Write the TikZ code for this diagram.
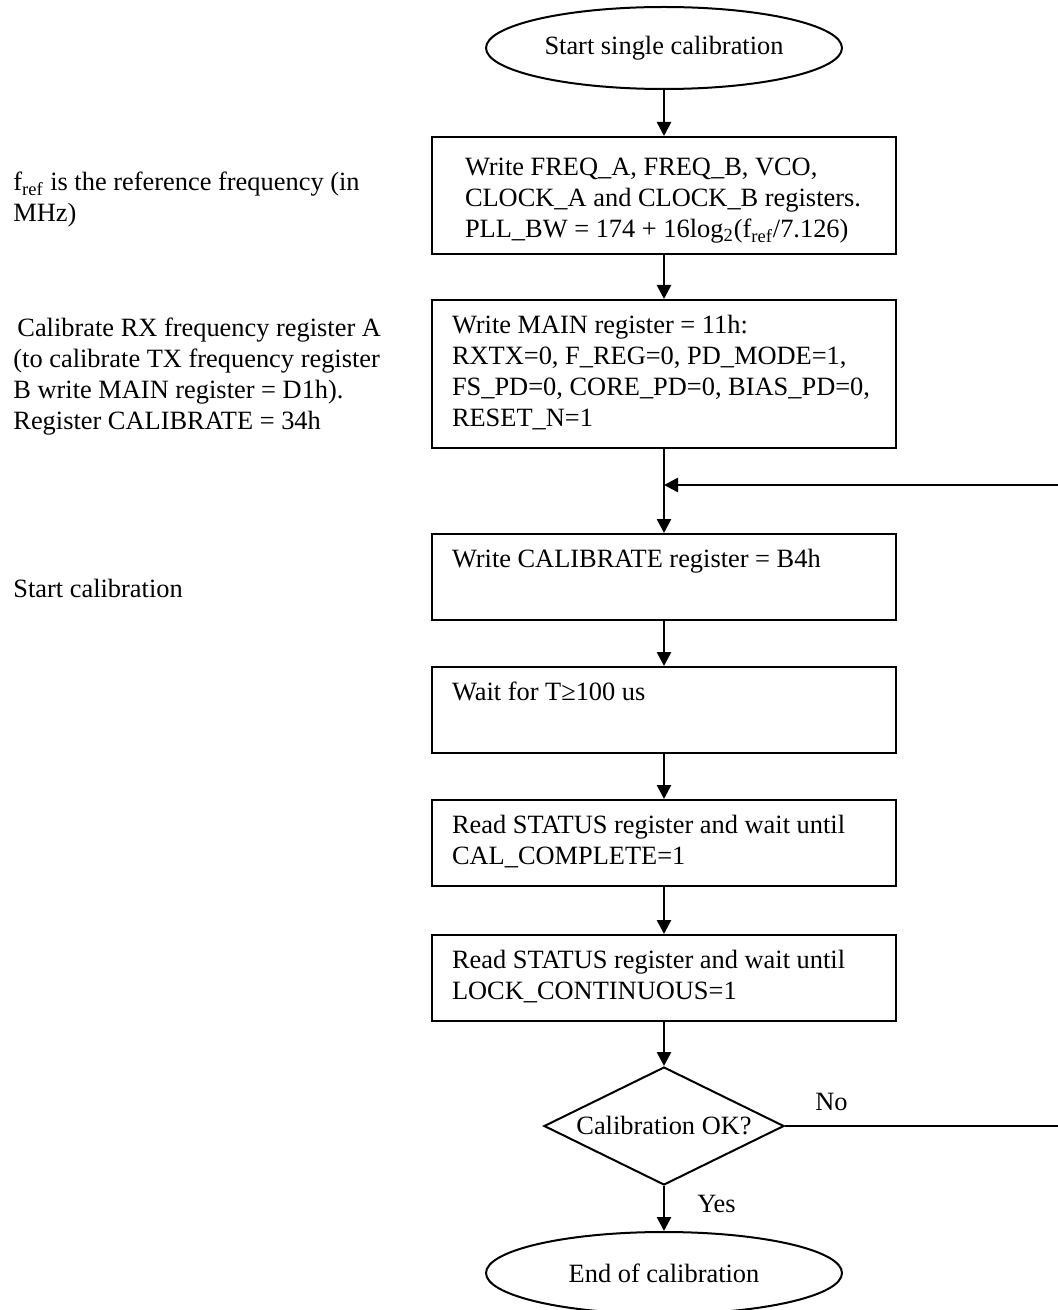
\documentclass[tikz,border=0pt]{standalone}
\usepackage{fontspec}
\setmainfont{Liberation Serif}
\usetikzlibrary{shapes.geometric, arrows.meta}

\begin{document}
\begin{tikzpicture}[x=0.5pt, y=-0.5pt, font=\fontsize{13.2}{15.5}\selectfont,
    flowbox/.style={draw, line width=1pt, align=flush left, text width=212pt, inner xsep=10pt,
        inner ysep=6pt, anchor=north, execute at begin node=\strut, execute at end node=\strut},
    termnode/.style={draw, ellipse, line width=1pt, minimum width=178pt, minimum height=41pt, inner sep=0pt},
    decnode/.style={draw, diamond, aspect=2, line width=1pt, minimum width=120pt, minimum height=59pt, inner sep=0pt},
    note/.style={align=flush left, anchor=north west, inner sep=0pt, execute at begin node=\strut},
    flow/.style={line width=1.3pt, -{Triangle[length=7pt,width=7pt]}}]
        \useasboundingbox (0,0) rectangle (1058,1310);
        \node[termnode] (start) at (664,48) {Start single calibration};
        \node[flowbox, inner xsep=16.5pt, text width=199pt, inner ysep=3.5pt,
            execute at begin node={\rule{0pt}{16pt}}] (wfreq) at (664,136)
            {Write FREQ\_A, FREQ\_B, VCO,\\CLOCK\_A and CLOCK\_B registers.\\PLL\_BW = 174 + 16log\textsubscript{2}(f\textsubscript{ref}/7.126)};
        \node[flowbox] (wmain) at (664,299)
            {Write MAIN register = 11h:\\RXTX=0, F\_REG=0, PD\_MODE=1,\\FS\_PD=0, CORE\_PD=0, BIAS\_PD=0,\\RESET\_N=1};
        \node[flowbox] (wcal) at (664,533) {Write CALIBRATE register = B4h\\ \mbox{}};
        \node[flowbox] (wait) at (664,666) {Wait for T≥100 us\\ \mbox{}};
        \node[flowbox] (rcal) at (664,799) {Read STATUS register and wait until\\CAL\_COMPLETE=1};
        \node[flowbox] (rlock) at (664,934) {Read STATUS register and wait until\\LOCK\_CONTINUOUS=1};
        \node[decnode] (chk) at (664,1126) {Calibration OK?};
        \node[termnode] (stop) at (664,1273) {End of calibration};
        \node[note] (noteref) at (13,172) {f\textsubscript{ref} is the reference frequency (in\\MHz)};
        \node[note] (notemain) at (13,318)
            {\hspace{2pt}Calibrate RX frequency register A\\(to calibrate TX frequency register\\B write MAIN register = D1h).\\Register CALIBRATE = 34h};
        \node[note] (notestart) at (13,575) {Start calibration};
        \coordinate (join) at (664,485);
        \coordinate (loopin) at (1058,485);
        \coordinate (noout) at (1058,1126);
        \draw[flow] (start) -- (wfreq);
        \draw[flow] (wfreq) -- (wmain);
        \draw[flow] (wmain) -- (wcal);
        \draw[flow] (loopin) -- (join);
        \draw[flow] (wcal) -- (wait);
        \draw[flow] (wait) -- (rcal);
        \draw[flow] (rcal) -- (rlock);
        \draw[flow] (rlock) -- (chk);
        \draw[flow] (chk) -- node[pos=0.4, right=16pt, inner sep=0pt] (yes) {Yes} (stop);
        \draw[line width=1.3pt] (chk.east) -- node[pos=0.17, above=7pt, inner sep=0pt] (no) {No} (noout);
\end{tikzpicture}
\end{document}
